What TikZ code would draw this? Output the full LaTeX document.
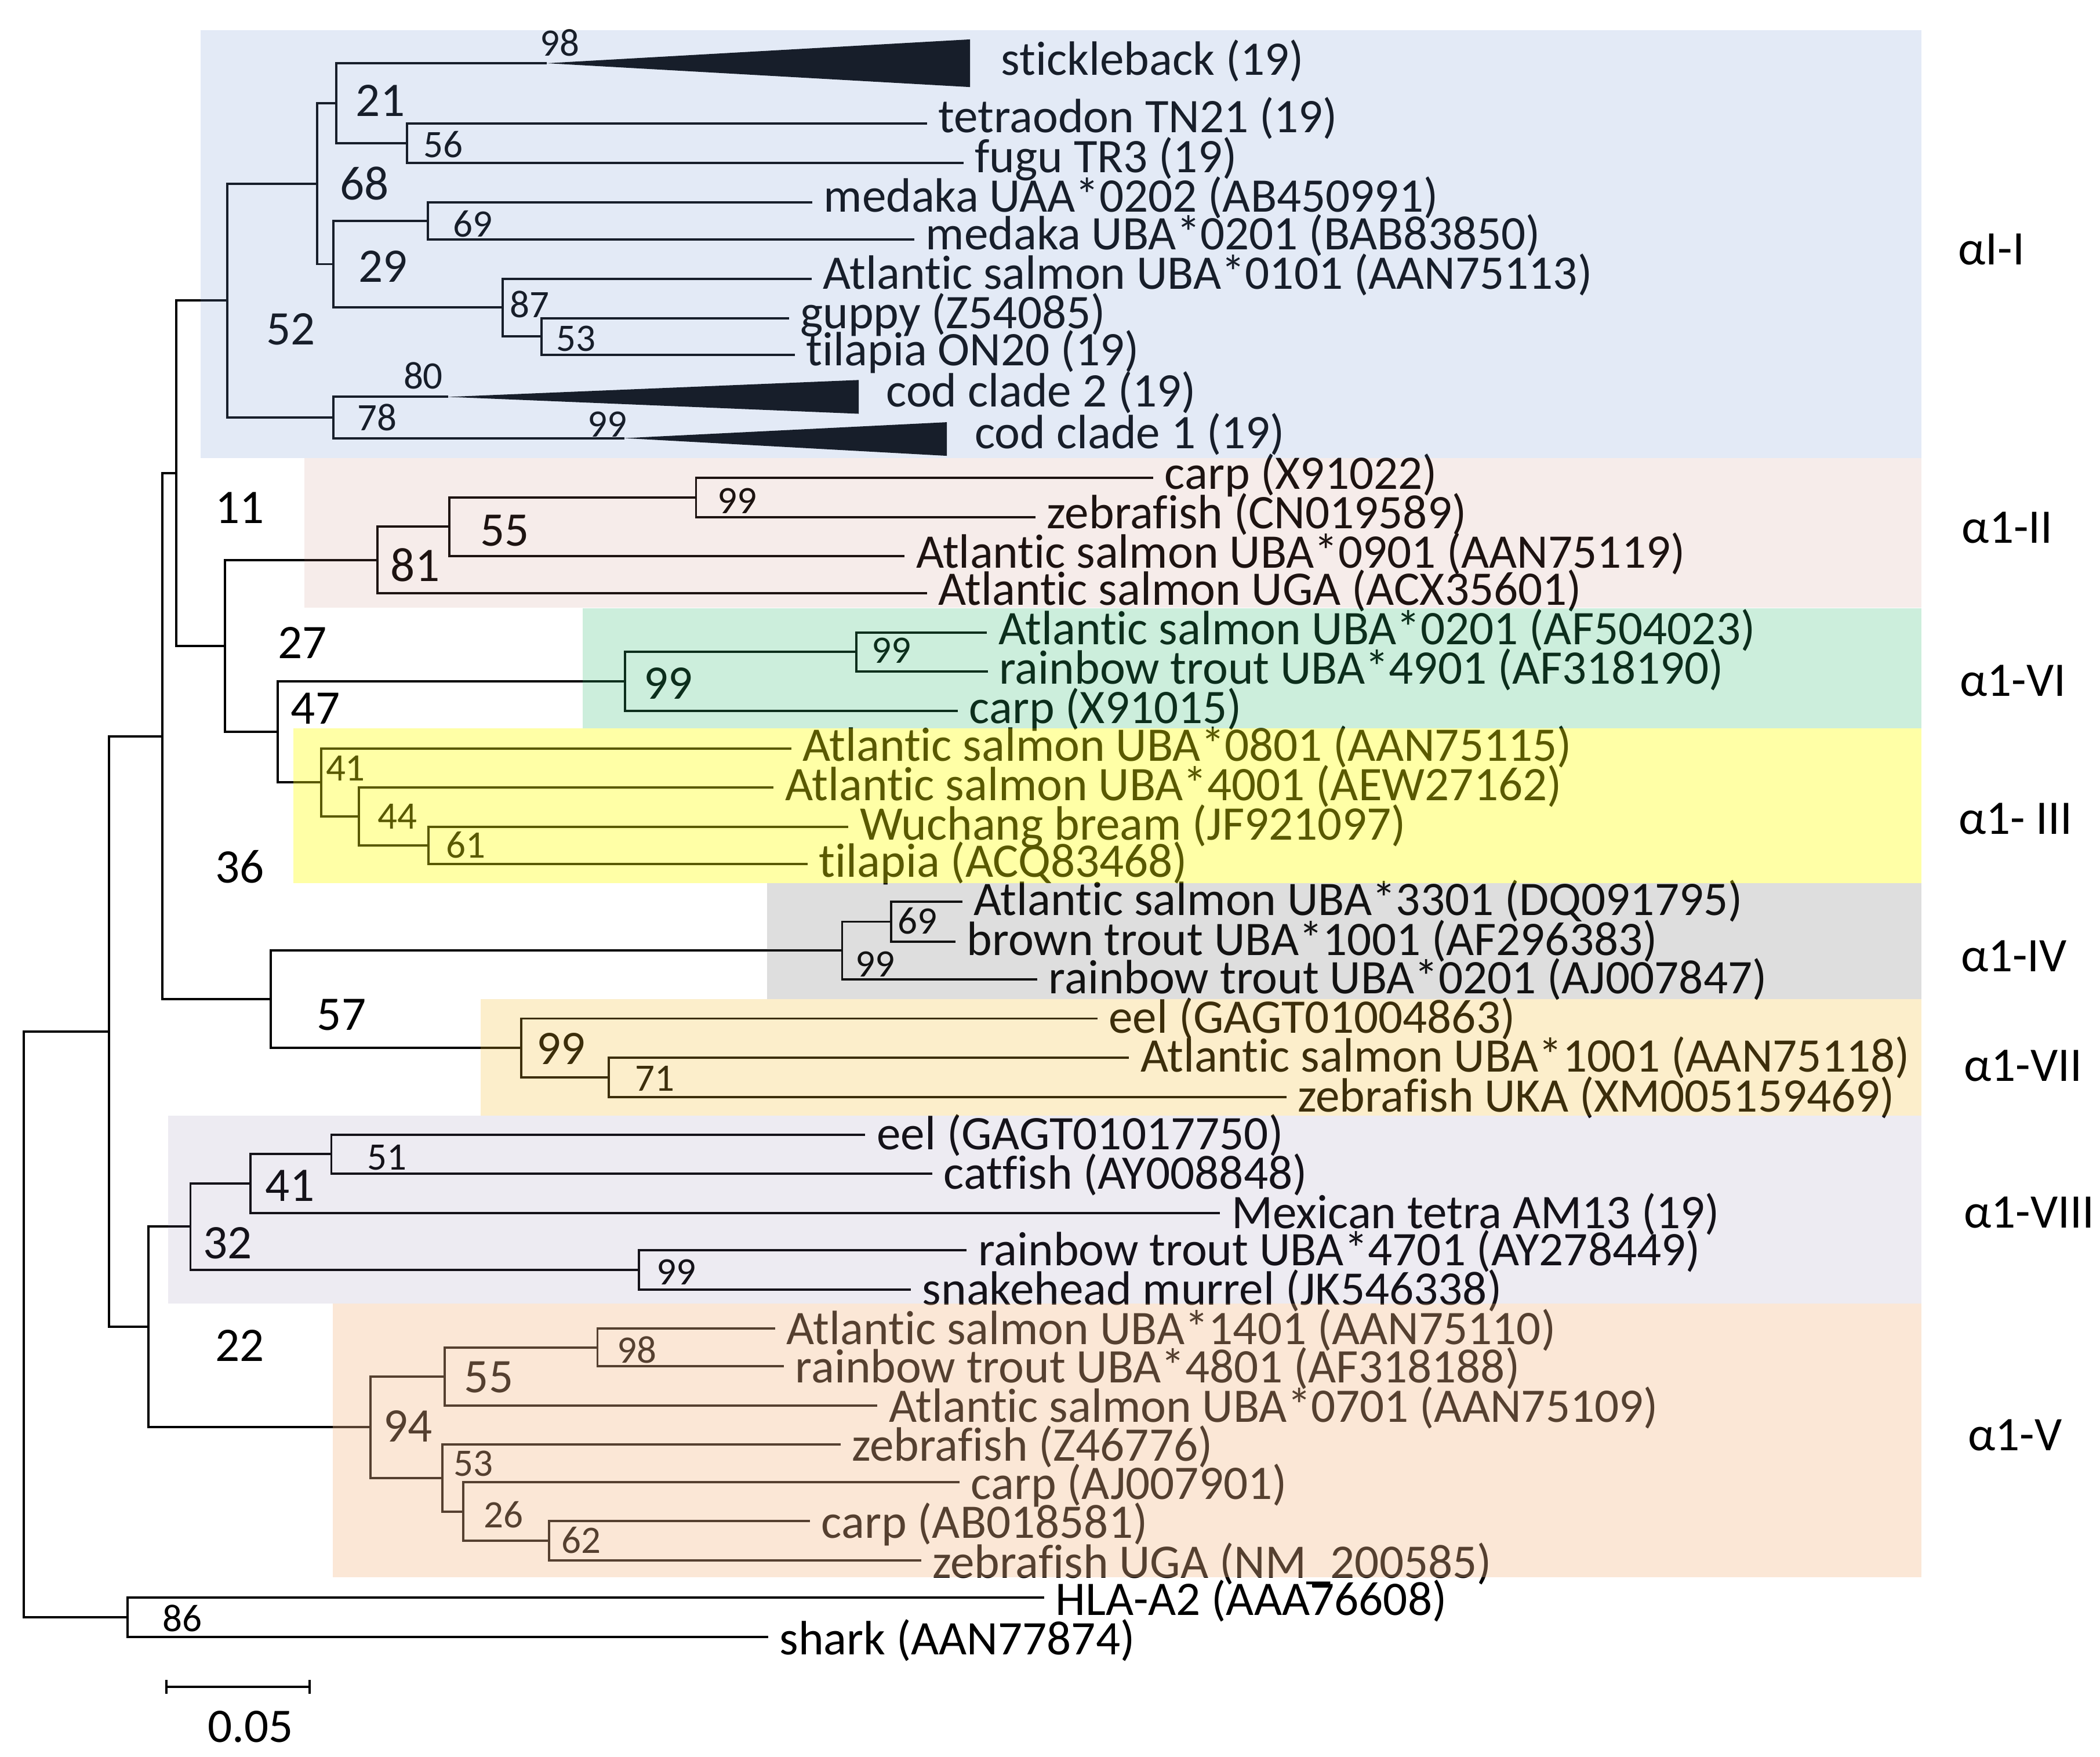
\documentclass[tikz,border=0pt]{standalone}
\usepackage{fontspec}
\setmainfont[Ligatures=NoCommon]{Carlito}
\definecolor{cblue}{RGB}{115,150,210}
\definecolor{cpink}{RGB}{195,128,115}
\definecolor{cgreen}{RGB}{51,187,115}
\definecolor{cyel}{RGB}{255,255,0}
\definecolor{cgray}{RGB}{90,90,90}
\definecolor{corange}{RGB}{243,187,47}
\definecolor{clav}{RGB}{135,122,168}
\definecolor{cpeach}{RGB}{244,186,138}
\begin{document}
\begin{tikzpicture}[x=0.5pt,y=-0.5pt,
  br/.style={line width=0.85pt},
  leaf/.style={anchor=base west, inner sep=0pt, xshift=4.1pt, font=\fontsize{18}{20}\selectfont},
  tipleaf/.style={anchor=base west, inner sep=0pt, font=\fontsize{18}{20}\selectfont},
  bsb/.style={inner sep=0pt, font=\fontsize{18}{20}\selectfont},
  bss/.style={inner sep=0pt, font=\fontsize{14.5}{16}\selectfont},
  grp/.style={anchor=base west, inner sep=0pt, font=\fontsize{18}{20}\selectfont}]
\useasboundingbox (0,0) rectangle (1568,1311.7);

% ---------- internal nodes ----------
\coordinate (R)  at (17.8,988.7);
\coordinate (A)  at (81.5,770.1);
\coordinate (B)  at (121.2,549.6);
\coordinate (C)  at (110.9,990.6);
\coordinate (D)  at (131.7,353.3);
\coordinate (E)  at (202.2,745.95);
\coordinate (F)  at (169.7,224.4);
\coordinate (G)  at (168,482.2);
\coordinate (H)  at (236.9,137.1);
\coordinate (I)  at (248.9,311.7);
\coordinate (J)  at (250.9,77.05);
\coordinate (K)  at (248.9,197.2);
\coordinate (L)  at (303.8,106.9);
\coordinate (M)  at (319.3,164.85);
\coordinate (N)  at (375.3,229.6);
\coordinate (O)  at (404.3,251.15);
\coordinate (P)  at (281.8,418);
\coordinate (S)  at (335.6,393.2);
\coordinate (T)  at (519.7,371.3);
\coordinate (Q)  at (207.5,546.4);
\coordinate (U)  at (466.6,508.65);
\coordinate (W)  at (639.2,486.7);
\coordinate (V)  at (239.8,584.1);
\coordinate (X)  at (267.8,609.5);
\coordinate (Y)  at (319.8,631.05);
\coordinate (Z)  at (628.8,709.6);
\coordinate (AB) at (665.4,688.1);
\coordinate (AA) at (389.3,782.3);
\coordinate (AC) at (454.6,804.25);
\coordinate (AD) at (142.2,915.7);
\coordinate (AF) at (187.1,883.55);
\coordinate (AH) at (247.4,861.6);
\coordinate (AG) at (477,947.9);
\coordinate (AE) at (276.7,1065.5);
\coordinate (AI) at (332.2,1027.6);
\coordinate (AK) at (446.1,1005.9);
\coordinate (AJ) at (330.2,1103.45);
\coordinate (AL) at (345.9,1128.5);
\coordinate (AM) at (410.1,1150.4);
\coordinate (OG) at (95.3,1207.35);

% ---------- leaf tips ----------
\coordinate (stickA) at (408.2,47.2);
\coordinate (tet) at (692,92.1);
\coordinate (fugu) at (719.3,121.7);
\coordinate (medUAA) at (606.4,150.9);
\coordinate (medUBA) at (682.6,178.8);
\coordinate (AS0101) at (606,208.1);
\coordinate (guppy) at (589,237.5);
\coordinate (tilON) at (593.5,264.8);
\coordinate (codA) at (334.6,296.3);
\coordinate (codB) at (466.1,327.1);
\coordinate (carpA) at (861,356.6);
\coordinate (zebCN) at (773.2,386.0);
\coordinate (AS0901) at (675.4,415.1);
\coordinate (ASUGA) at (692,442.8);
\coordinate (AS0201) at (737,472.1);
\coordinate (RT4901) at (737.5,501.3);
\coordinate (carpB) at (715.2,530.6);
\coordinate (AS0801) at (590.7,558.7);
\coordinate (AS4001) at (577.7,587.9);
\coordinate (Wuch) at (633.4,617.2);
\coordinate (tilACQ) at (603,644.9);
\coordinate (AS3301) at (718.6,673.2);
\coordinate (BT1001) at (713.4,703.0);
\coordinate (RT0201) at (774.5,731.1);
\coordinate (eelA) at (819.3,760.4);
\coordinate (AS1001) at (843,789.6);
\coordinate (zebUKA) at (960.4,818.9);
\coordinate (eelB) at (646.1,847.0);
\coordinate (catf) at (696.1,876.2);
\coordinate (mex) at (911,905.5);
\coordinate (RT4701) at (721.8,933.2);
\coordinate (snake) at (680.1,962.6);
\coordinate (AS1401) at (578.7,991.8);
\coordinate (RT4801) at (585.3,1020.0);
\coordinate (AS0701) at (655.2,1049.3);
\coordinate (zebZ) at (627.5,1078.4);
\coordinate (carpC) at (716.5,1106.6);
\coordinate (carpD) at (604.8,1135.7);
\coordinate (zebUGA) at (687.7,1165.1);
\coordinate (HLA) at (779.7,1192.6);
\coordinate (shark) at (573.5,1222.1);

% ---------- branches ----------
\foreach \p/\c in {R/A,R/OG,A/B,A/C,B/D,B/E,D/F,D/G,F/H,F/I,H/J,H/K,
  J/stickA,J/L,L/tet,L/fugu,K/M,K/N,M/medUAA,M/medUBA,N/AS0101,N/O,
  O/guppy,O/tilON,I/codA,I/codB,G/P,G/Q,P/S,P/ASUGA,S/T,S/AS0901,
  T/carpA,T/zebCN,Q/U,Q/V,U/W,U/carpB,W/AS0201,W/RT4901,V/AS0801,V/X,
  X/AS4001,X/Y,Y/Wuch,Y/tilACQ,E/Z,E/AA,Z/AB,Z/RT0201,AB/AS3301,AB/BT1001,
  AA/eelA,AA/AC,AC/AS1001,AC/zebUKA,C/AD,C/AE,AD/AF,AD/AG,AF/AH,AF/mex,
  AH/eelB,AH/catf,AG/RT4701,AG/snake,AE/AI,AE/AJ,AI/AK,AI/AS0701,
  AK/AS1401,AK/RT4801,AJ/zebZ,AJ/AL,AL/carpC,AL/AM,AM/carpD,AM/zebUGA,
  OG/HLA,OG/shark}
  \draw[br] (\p) |- (\c);

% collapsed clades
\fill[black] (stickA) -- (724.3,29.4) -- (724.3,65) -- cycle;
\fill[black] (codA) -- (641.2,283.7) -- (641.2,308.9) -- cycle;
\fill[black] (codB) -- (707,315.2) -- (707,340.3) -- cycle;

% ---------- leaf labels ----------
\node[tipleaf] (l-stick) at (747.2,56) {stickleback (19)};
\node[tipleaf] (l-codA) at (661.3,303.8) {cod clade 2 (19)};
\node[tipleaf] (l-codB) at (727.5,334.8) {cod clade 1 (19)};
\foreach \c/\d/\t in {tet/7.0/{tetraodon TN21 (19)},fugu/7.2/{fugu TR3 (19)},
  medUAA/7.3/{medaka UAA*0202 (AB450991)},medUBA/7.5/{medaka UBA*0201 (BAB83850)},
  AS0101/7.6/{Atlantic salmon UBA*0101 (AAN75113)},guppy/7.8/{guppy (Z54085)},
  tilON/8.0/{tilapia ON20 (19)},carpA/8.5/{carp (X91022)},zebCN/8.6/{zebrafish (CN019589)},
  AS0901/8.8/{Atlantic salmon UBA*0901 (AAN75119)},ASUGA/8.9/{Atlantic salmon UGA (ACX35601)},
  AS0201/9.1/{Atlantic salmon UBA*0201 (AF504023)},RT4901/9.2/{rainbow trout UBA*4901 (AF318190)},
  carpB/9.4/{carp (X91015)},AS0801/9.6/{Atlantic salmon UBA*0801 (AAN75115)},
  AS4001/9.7/{Atlantic salmon UBA*4001 (AEW27162)},Wuch/9.9/{Wuchang bream (JF921097)},
  tilACQ/10.0/{tilapia (ACQ83468)},AS3301/10.2/{Atlantic salmon UBA*3301 (DQ091795)},
  BT1001/10.4/{brown trout UBA*1001 (AF296383)},RT0201/10.5/{rainbow trout UBA*0201 (AJ007847)},
  eelA/10.7/{eel (GAGT01004863)},AS1001/10.8/{Atlantic salmon UBA*1001 (AAN75118)},
  zebUKA/11.0/{zebrafish UKA (XM005159469)},eelB/11.2/{eel (GAGT01017750)},
  catf/11.3/{catfish (AY008848)},mex/11.5/{Mexican tetra AM13 (19)},
  RT4701/11.6/{rainbow trout UBA*4701 (AY278449)},snake/11.8/{snakehead murrel (JK546338)},
  AS1401/11.9/{Atlantic salmon UBA*1401 (AAN75110)},RT4801/12.1/{rainbow trout UBA*4801 (AF318188)},
  AS0701/12.3/{Atlantic salmon UBA*0701 (AAN75109)},zebZ/12.4/{zebrafish (Z46776)},
  carpC/12.6/{carp (AJ007901)},carpD/12.7/{carp (AB018581)},zebUGA/12.9/{zebrafish UGA (NM\_200585)},
  HLA/13.1/{HLA-A2 (AAA76608)},shark/13.2/{shark (AAN77874)}}
  \node[leaf, yshift={-0.5pt*\d}] (l-\c) at (\c) {\t};

% ---------- bootstrap values ----------
\foreach \n/\x/\y/\v in {b1/284/75/21,b2/272/137/68,b3/286/199/29,b4/217/246/52,
  b5/179/379/11,b6/377/396/55,b7/310/422/81,b8/225.7/479.7/27,b9/499/510/99,
  b10/235.5/529/47,b11/179/647/36,b12/255/757.5/57,b13/419/783/99,
  b14/216.5/885/41,b15/170/928/32,b16/179/1004.7/22,b17/365/1028.4/55,
  b18/304.5/1064.7/94}
  \node[bsb] (\n) at (\x,\y) {\v};
\foreach \n/\x/\y/\v in {s1/418/32/98,s2/331/108/56,s3/353/167/69,s4/395.5/227/87,
  s5/430/253/53,s6/316/280.5/80,s7/281.5/311.5/78,s8/453.5/316.7/99,
  s9/550.5/374/99,s10/665.6/485.8/99,s11/258/573.6/41,s12/296.7/609.7/44,
  s13/347.8/631/61,s14/685/687.4/69,s15/653.6/720/99,s16/489/805/71,
  s17/289/864/51,s18/505/949.7/99,s19/475.7/1007.6/98,s20/353.3/1092.7/53,
  s21/376/1130.7/26,s22/434/1150/62,s23/136/1208.2/86}
  \node[bss] (\n) at (\x,\y) {\v};

% ---------- clade boxes (translucent overlays) ----------
\fill[cblue,fill opacity=0.2] (150,22.4) rectangle (1434.5,341.8);
\fill[cpink,fill opacity=0.15] (227.2,341.8) rectangle (1434.5,453.8);
\fill[cgreen,fill opacity=0.25] (435,454.2) rectangle (1434.5,543.7);
\fill[cyel,fill opacity=0.35] (219,543.7) rectangle (1434.5,659.5);
\fill[cgray,fill opacity=0.2] (572.6,659.5) rectangle (1434.5,745.9);
\fill[corange,fill opacity=0.25] (358.7,745.9) rectangle (1434.5,833);
\fill[clav,fill opacity=0.15] (125.5,833) rectangle (1434.5,973.2);
\fill[cpeach,fill opacity=0.35] (248.5,973.2) rectangle (1434.5,1177.7);

% ---------- group labels ----------
\node[grp] (g1) at (1461.8,197.7) {αI-I};
\node[grp] (g2) at (1464.5,405.2) {α1-II};
\node[grp] (g3) at (1463,519.7) {α1-VI};
\node[grp] (g4) at (1462,622.7) {α1- III};
\node[grp] (g5) at (1463.7,725.5) {α1-IV};
\node[grp] (g6) at (1466,807.3) {α1-VII};
\node[grp] (g7) at (1466,916.6) {α1-VIII};
\node[grp] (g8) at (1469,1083) {α1-V};

% ---------- scale bar ----------
\coordinate (sb1) at (124.3,1259.5);
\coordinate (sb2) at (231.2,1259.5);
\draw[br] (sb1) -- (sb2);
\draw[br] ([yshift=2.6pt]sb1) -- ([yshift=-2.6pt]sb1);
\draw[br] ([yshift=2.6pt]sb2) -- ([yshift=-2.6pt]sb2);
\node[bsb] (sbl) at (187,1289) {0.05};
\end{tikzpicture}
\end{document}
